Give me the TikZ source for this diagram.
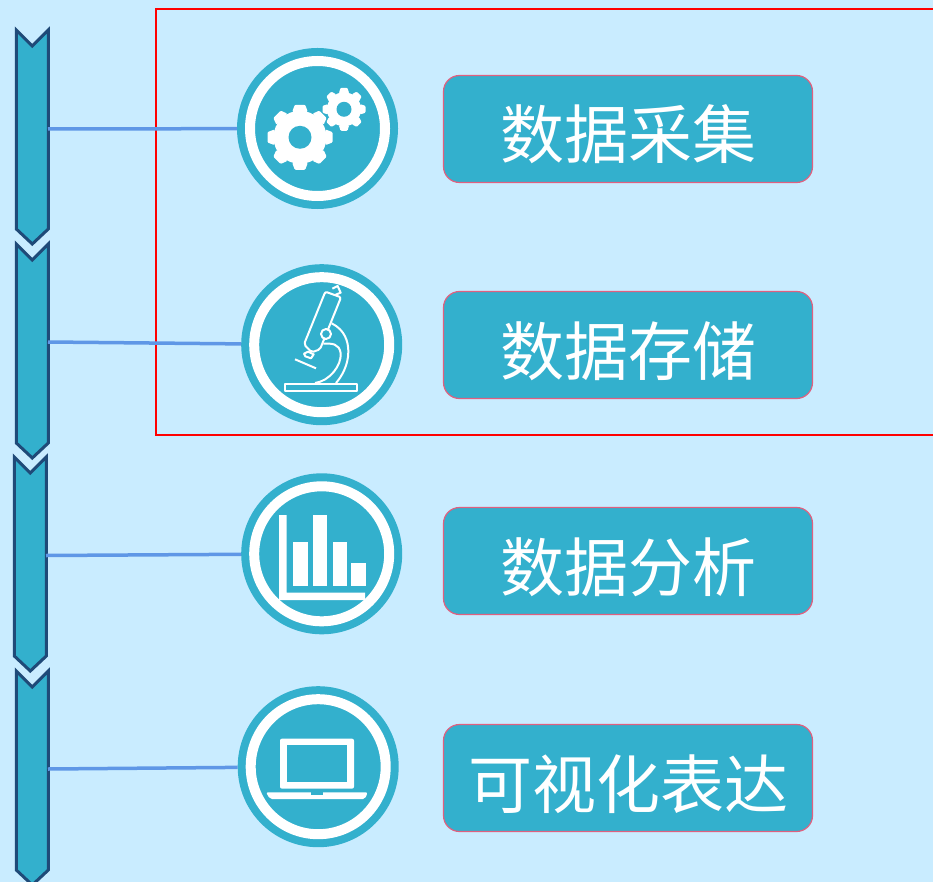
\documentclass[tikz,border=0pt]{standalone}
\usepackage{fontspec}
\setmainfont{Noto Sans CJK SC}[Scale=1]
\usetikzlibrary{positioning}
\definecolor{myPage}{HTML}{C9ECFF}
\definecolor{myTeal}{HTML}{33B0CD}
\definecolor{myNavy}{HTML}{1F4A78}
\definecolor{myLine}{HTML}{5F97E6}
\definecolor{myPink}{HTML}{E0607F}
\tikzset{
    chevronbar/.style={fill=myTeal,draw=myNavy,line width=3pt,miter limit=10},
    linkline/.style={myLine,line width=3.5pt},
    iconring/.style={circle,fill=myTeal,draw=white,line width=10pt,minimum size=135pt,
        inner sep=0pt,outer sep=13pt,preaction={draw=myTeal,line width=26pt}},
    titlebox/.style={rectangle,rounded corners=16pt,fill=myTeal,draw=myPink,line width=1.2pt,
        minimum width=369pt,minimum height=107pt,inner sep=0pt,text=white,
        font=\fontsize{64}{70}\selectfont,text height=60pt,text depth=0pt},
    glyph/.style={draw=white,line width=2pt,line join=round},
}
% one bar of the left column, top left corner at (#1,#2)
\newcommand{\chevronbar}[2]{
    \draw[chevronbar] (#1,#2) -- (#1+16,#2+16) -- (#1+32,#2) -- (#1+32,#2+199)
        -- (#1+16,#2+214) -- (#1,#2+199) -- cycle;
}
% eight toothed wheel: centre, tip radius, root radius, hole radius
\newcommand{\gearwheel}[5]{
    \fill[white] (#1,#2) circle (#4);
    \foreach \a in {0,45,...,315}{
        \fill[white,rounded corners=1pt,shift={(#1,#2)},rotate=\a]
            (-.24*#3,-#4+1) -- (-.16*#3,-#3) -- (.16*#3,-#3) -- (.24*#3,-#4+1) -- cycle;
    }
    \fill[myTeal] (#1,#2) circle (#5);
}
\begin{document}
\begin{tikzpicture}[x=1pt,y=-1pt]
    \useasboundingbox (0,0) rectangle (933,882);
    \fill[myPage] (0,0) rectangle (933,882);

    % red frame, open on the right
    \draw[red,line width=1.5pt] (934,9) -- (156,9) -- (156,435) -- (934,435);

    % left column
    \chevronbar{16.3}{30}
    \chevronbar{16.3}{244}
    \chevronbar{14.3}{457}
    \chevronbar{16.3}{671}
    \coordinate (barA) at (48,129);
    \coordinate (barB) at (48,342);
    \coordinate (barC) at (46,555.5);
    \coordinate (barD) at (48,769);

    % round icons
    \node[iconring] (iconA) at (317.5,128.5) {};
    \node[iconring] (iconB) at (321.7,344.7) {};
    \node[iconring] (iconC) at (321.7,553.8) {};
    \node[iconring] (iconD) at (318.2,766.7) {};

    % connectors
    \draw[linkline] (barA) -- (iconA);
    \draw[linkline] (barB) -- (iconB);
    \draw[linkline] (barC) -- (iconC);
    \draw[linkline] (barD) -- (iconD);

    % gears
    \gearwheel{300}{137.3}{32.5}{26.5}{11.5}
    \gearwheel{344}{109.3}{21.5}{17}{7.5}

    % microscope
    \begin{scope}[shift={(230,255)},scale=1/3]
        \draw[glyph] (307,101) -- (323,93) -- (332,113) -- (315,120);
        \draw[glyph,rounded corners=2pt] (286,110) -- (333,127) -- (270,283) -- (245,292) -- (222,268) -- cycle;
        \draw[glyph] (222,296) -- (234,290) -- (251,298) -- (243,310) -- (226,304) -- cycle;
        \draw[glyph,fill=myTeal] (288,237) circle (15);
        \draw[glyph] (195,313) -- (258,340);
        \draw[glyph] (305,205) .. controls (345,225) and (355,260) .. (355,290)
            .. controls (355,330) and (335,365) .. (318,384);
        \draw[glyph] (280,266) .. controls (305,265) and (328,265) .. (332,295)
            .. controls (335,330) and (300,378) .. (255,384);
        \draw[glyph] (165,386) rectangle (380,407);
    \end{scope}

    % bar chart
    \begin{scope}[shift={(230,465)},scale=1/3]
        \fill[white] (147,150) -- (170,150) -- (170,383) -- (405,383) -- (405,405) -- (147,405) -- cycle;
        \fill[white] (190,230) rectangle (235,363);
        \fill[white] (250,150) rectangle (292,363);
        \fill[white] (308,230) rectangle (350,363);
        \fill[white] (363,293) rectangle (407,363);
    \end{scope}

    % laptop
    \begin{scope}[shift={(230,680)},scale=1/3]
        \fill[white,rounded corners=2pt] (150,176) rectangle (372,326);
        \fill[myTeal] (170,196) rectangle (352,307);
        \fill[white,rounded corners=2pt] (108,337) -- (413,337) -- (405,357) -- (120,357) -- cycle;
        \fill[myTeal] (243,337) rectangle (278,346);
    \end{scope}

    % titles
    \node[titlebox] (titleA) at (628,129) {数据采集};
    \node[titlebox] (titleB) at (628,345) {数据存储};
    \node[titlebox] (titleC) at (628,561) {数据分析};
    \node[titlebox] (titleD) at (628,778) {可视化表达};
\end{tikzpicture}
\end{document}
